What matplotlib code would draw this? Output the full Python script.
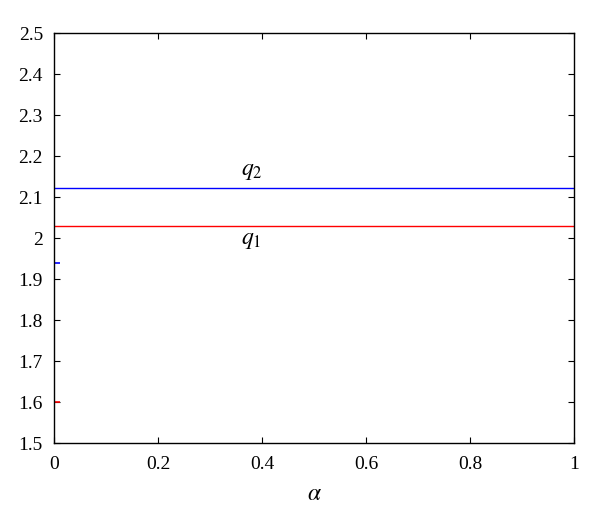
import matplotlib
matplotlib.use("Agg")
import matplotlib.pyplot as plt

plt.rcParams['font.family'] = ['Liberation Serif', 'DejaVu Serif']
plt.rcParams['mathtext.fontset'] = 'stix'

# data (value at alpha = 0 differs from the rest)
alpha = [0.0, 0.001, 1.0]
q1 = [1.60, 2.03, 2.03]
q2 = [1.94, 2.122, 2.122]

fig = plt.figure(figsize=(6, 5.25), dpi=100)
ax = fig.add_axes([0.09, 0.156, 0.867, 0.781])

ax.plot(alpha[1:], q1[1:], color='red', lw=1.0)
ax.plot(alpha[1:], q2[1:], color='blue', lw=1.0)
# isolated values at alpha = 0 (only the inside half shows)
ax.plot(alpha[0], q1[0], marker='_', ms=8, mew=1.2, color='red')
ax.plot(alpha[0], q2[0], marker='_', ms=8, mew=1.2, color='blue')

ax.text(0.38, 2.03 - 0.035, r'$q_1$', fontsize=17, ha='center', va='center')
ax.text(0.38, 2.122 + 0.04, r'$q_2$', fontsize=17, ha='center', va='center')

ax.set_xlim(0, 1)
ax.set_ylim(1.5, 2.5)
ax.set_xticks([0, 0.2, 0.4, 0.6, 0.8, 1])
ax.set_xticklabels(['0', '0.2', '0.4', '0.6', '0.8', '1'])
ax.set_yticks([1.5, 1.6, 1.7, 1.8, 1.9, 2.0, 2.1, 2.2, 2.3, 2.4, 2.5])
ax.set_yticklabels(['1.5', '1.6', '1.7', '1.8', '1.9', '2', '2.1', '2.2', '2.3', '2.4', '2.5'])
ax.tick_params(direction='in', top=True, right=True, labelsize=14, length=4, width=0.8)
ax.tick_params(axis='x', pad=9)
ax.tick_params(axis='y', pad=8)
ax.set_xlabel(r'$\alpha$', fontsize=17, labelpad=8)
for s in ax.spines.values():
    s.set_linewidth(1.0)
    s.set_zorder(3)

fig.savefig('out.png', dpi=100)
